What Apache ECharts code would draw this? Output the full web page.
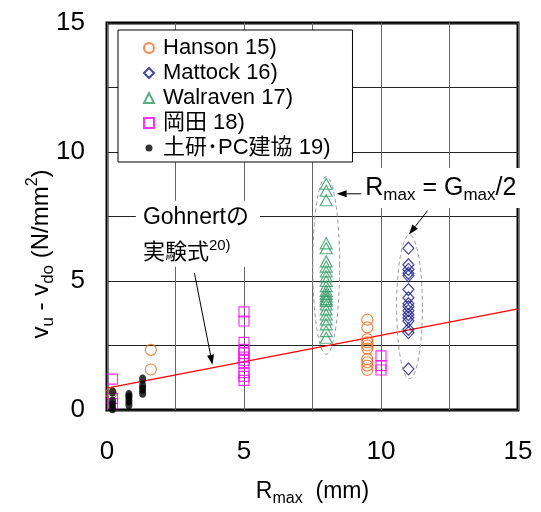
<!DOCTYPE html>
<html><head><meta charset="utf-8">
<script src="https://cdn.jsdelivr.net/npm/echarts@6/dist/echarts.min.js"></script>
<style>html,body{margin:0;padding:0;background:#fff}#c{width:541px;height:512px}</style>
</head><body><div id="c"></div>
<script>
const FONT = '"Liberation Sans", Arial, "Noto Sans CJK JP", sans-serif';

// ---- data ----
const seriesNames = ['Hanson 15)', 'Mattock 16)', 'Walraven 17)', '岡田 18)', '土研･PC建協 19)'];
const axisTicks = [0, 5, 10, 15];

const hansonX = [9.5, 9.5, 9.5, 9.5, 9.5, 9.5, 9.5, 9.5, 9.5, 9.5, 1.6, 1.6, 0.15];
const hansonY = [3.5, 3.2, 2.75, 2.62, 2.5, 2.38, 1.97, 1.85, 1.72, 1.55, 2.33, 1.57, 0.65];

const mattockX = [11, 11, 11, 11, 11, 11, 11, 11, 11, 11, 11, 11, 11, 11, 11, 11];
const mattockY = [6.27, 5.63, 5.45, 5.3, 5.2, 4.67, 4.35, 4.12, 4.0, 3.85, 3.7, 3.58, 3.45, 3.13, 3.0, 1.59];

const walravenX = [8, 8, 8, 8, 8, 8, 8, 8, 8, 8, 8, 8, 8, 8, 8, 8, 8, 8, 8, 8, 8, 8, 8];
const walravenY = [8.77, 8.5, 8.13, 6.46, 6.27, 5.76, 5.56, 5.37, 5.18, 5.0, 4.8, 4.62, 4.5, 4.4, 4.3, 4.23, 4.09, 3.9, 3.7, 3.51, 3.32, 3.06, 2.8];

const okadaX = [5, 5, 5, 5, 5, 5, 5, 5, 5, 5, 5, 10, 10, 10, 0.2, 0.2, 0.2];
const okadaY = [3.8, 3.45, 2.62, 2.35, 2.2, 2.05, 1.92, 1.8, 1.45, 1.3, 1.15, 2.1, 1.72, 1.55, 1.2, 0.45, 0.25];

const dokenX = [0.2, 0.2, 0.2, 0.2, 0.8, 0.8, 0.8, 0.8, 1.3, 1.3, 1.3, 1.3];
const dokenY = [0.05, 0.2, 0.35, 0.7, 0.2, 0.35, 0.5, 0.6, 0.65, 0.8, 0.95, 1.2];

const gohnertX = [0, 15];
const gohnertY = [0.85, 3.92];

// annotation anchors (data units)
const ellipseWalraven = {cx: 8.0, cy: 5.6, rx: 0.49, ry: 3.44};
const ellipseMattock = {cx: 11.04, cy: 4.0, rx: 0.47, ry: 2.79};
const arrowRmax1 = {from: [9.28, 8.38], to: [8.38, 8.38]};
const arrowRmax2 = {from: [11.7, 7.73], to: [11.02, 6.8]};
const arrowGohnert = {from: [3.19, 5.31], to: [3.85, 1.75]};

const zip = (xs, ys) => xs.map((x, i) => [x, ys[i]]);

const chart = echarts.init(document.getElementById('c'), null, {renderer: 'canvas'});

const hollow = (c) => ({color: 'rgba(255,255,255,0)', borderColor: c, borderWidth: 1.2});
const smallDotIcon = 'path://M0 0M10 10M1.5 5A3.5 3.5 0 1 0 8.5 5A3.5 3.5 0 1 0 1.5 5Z';

const option = {
  animation: false,
  backgroundColor: '#fff',
  textStyle: {fontFamily: FONT},
  grid: {left: 107, right: 23, top: 23, bottom: 99, show: true, borderColor: '#000', borderWidth: 3, backgroundColor: 'transparent'},
  xAxis: {
    type: 'value', min: 0, max: 15, interval: 2.5,
    axisLine: {show: false}, axisTick: {show: false},
    splitLine: {show: true, lineStyle: {color: '#666', width: 1}},
    axisLabel: {margin: 29, fontSize: 26, color: '#000', fontFamily: FONT,
      formatter: v => axisTicks.includes(v) ? String(v) : ''},
    name: '{a|R}{s|max}{a|  (mm)}', nameLocation: 'middle', nameGap: 67,
    nameTextStyle: {color: '#000', rich: {
      a: {fontSize: 23, fontFamily: FONT, color: '#000', lineHeight: 30},
      s: {fontSize: 16, fontFamily: FONT, color: '#000', lineHeight: 30, verticalAlign: 'bottom'}
    }}
  },
  yAxis: {
    type: 'value', min: 0, max: 15, interval: 2.5,
    axisLine: {show: false}, axisTick: {show: false},
    splitLine: {show: true, lineStyle: {color: '#222', width: 1}},
    axisLabel: {margin: 22, fontSize: 26, color: '#000', fontFamily: FONT,
      formatter: v => axisTicks.includes(v) ? String(v) : ''}
  },
  legend: {
    orient: 'vertical', left: 118, top: 30,
    padding: [7, 22, 3, 25], itemGap: 3, itemWidth: 10, itemHeight: 10,
    borderColor: '#000', borderWidth: 1, backgroundColor: '#fff',
    textStyle: {fontSize: 22, color: '#000', fontFamily: FONT, padding: [0, 0, 0, 4]},
    data: [
      {name: seriesNames[0]}, {name: seriesNames[1]}, {name: seriesNames[2]}, {name: seriesNames[3]},
      {name: seriesNames[4], icon: smallDotIcon}
    ]
  },
  series: [
    {name: seriesNames[0], type: 'scatter', symbol: 'circle', symbolSize: 11, itemStyle: hollow('#F26A1B'), data: zip(hansonX, hansonY), z: 3},
    {name: seriesNames[1], type: 'scatter', symbol: 'diamond', symbolSize: [11, 12], itemStyle: hollow('#14198C'), data: zip(mattockX, mattockY), z: 3},
    {name: seriesNames[2], type: 'scatter', symbol: 'triangle', symbolSize: [12, 11], itemStyle: hollow('#2E9A64'), data: zip(walravenX, walravenY), z: 3},
    {name: seriesNames[3], type: 'scatter', symbol: 'rect', symbolSize: 10, itemStyle: hollow('#FF00FF'), data: zip(okadaX, okadaY), z: 3},
    {name: seriesNames[4], type: 'scatter', symbol: 'circle', symbolSize: [7, 9], itemStyle: {color: '#000'}, data: zip(dokenX, dokenY), z: 4},
    {name: 'Gohnert', type: 'line', showSymbol: false, symbol: 'none', lineStyle: {color: '#FF0000', width: 1.2}, data: zip(gohnertX, gohnertY), z: 2}
  ]
};
chart.setOption(option);

const P = (pt) => chart.convertToPixel({gridIndex: 0}, pt);

function ellipsePts(e) {
  const pts = [];
  for (let i = 0; i <= 80; i++) {
    const t = i / 80 * Math.PI * 2;
    pts.push(P([e.cx + e.rx * Math.cos(t), e.cy + e.ry * Math.sin(t)]));
  }
  return pts;
}
function arrow(a) {
  const p0 = P(a.from), p1 = P(a.to);
  const dx = p1[0] - p0[0], dy = p1[1] - p0[1];
  const L = Math.hypot(dx, dy), ux = dx / L, uy = dy / L;
  const hl = 10, hw = 3.5;
  const bx = p1[0] - ux * hl, by = p1[1] - uy * hl;
  return [
    {type: 'line', shape: {x1: p0[0], y1: p0[1], x2: bx, y2: by}, style: {stroke: '#000', lineWidth: 1}, z: 50},
    {type: 'polygon', shape: {points: [p1, [bx - uy * hw, by + ux * hw], [bx + uy * hw, by - ux * hw]]}, style: {fill: '#000'}, z: 50}
  ];
}

const rmaxPos = P([9.5, 8.6]);
const gohPos = P([1.31, 7.45]);
const gohPos2 = P([1.31, 6.1]);

const graphics = [
  {type: 'polyline', shape: {points: ellipsePts(ellipseWalraven)}, style: {stroke: '#999', lineWidth: 1, lineDash: [4, 3], fill: null}, z: 40},
  {type: 'polyline', shape: {points: ellipsePts(ellipseMattock)}, style: {stroke: '#999', lineWidth: 1, lineDash: [4, 3], fill: null}, z: 40},
  ...arrow(arrowRmax1), ...arrow(arrowRmax2), ...arrow(arrowGohnert),
  {type: 'text', left: rmaxPos[0] - 8, top: rmaxPos[1] - 20, z: 45,
    style: {text: '{a|R}{s|max}{a| = G}{s|max}{a|/2}', backgroundColor: '#fff', padding: [4, 6, 4, 6],
      rich: {a: {fontSize: 25, fontFamily: FONT, fill: '#000', lineHeight: 32},
             s: {fontSize: 17, fontFamily: FONT, fill: '#000', lineHeight: 32, verticalAlign: 'bottom'}}}},
  {type: 'rect', shape: {x: gohPos[0] - 7, y: gohPos[1] - 17, width: 124, height: 66}, style: {fill: '#fff'}, z: 44},
  {type: 'text', x: gohPos[0], y: gohPos[1], z: 45,
    style: {text: 'Gohnertの', font: '23px ' + FONT, fill: '#000', verticalAlign: 'middle', align: 'left'}},
  {type: 'text', x: gohPos2[0], y: gohPos2[1], z: 45,
    style: {text: '{a|実験式}{p|20)}', verticalAlign: 'middle', align: 'left',
      rich: {a: {fontSize: 22, fontFamily: FONT, fill: '#000', lineHeight: 28},
             p: {fontSize: 15, fontFamily: FONT, fill: '#000', lineHeight: 28, verticalAlign: 'top'}}}},
  {type: 'text', x: 41, y: 254, rotation: Math.PI / 2, z: 45,
    style: {text: '{a|v}{s|u}{a| - v}{s|do}{a| (N/mm}{p|2}{a|)}', align: 'center', verticalAlign: 'middle',
      rich: {a: {fontSize: 24, fontFamily: FONT, fill: '#000', lineHeight: 32},
             s: {fontSize: 17, fontFamily: FONT, fill: '#000', lineHeight: 32, verticalAlign: 'bottom'},
             p: {fontSize: 16, fontFamily: FONT, fill: '#000', lineHeight: 32, verticalAlign: 'top'}}}}
];
chart.setOption({graphic: graphics});
</script></body></html>
